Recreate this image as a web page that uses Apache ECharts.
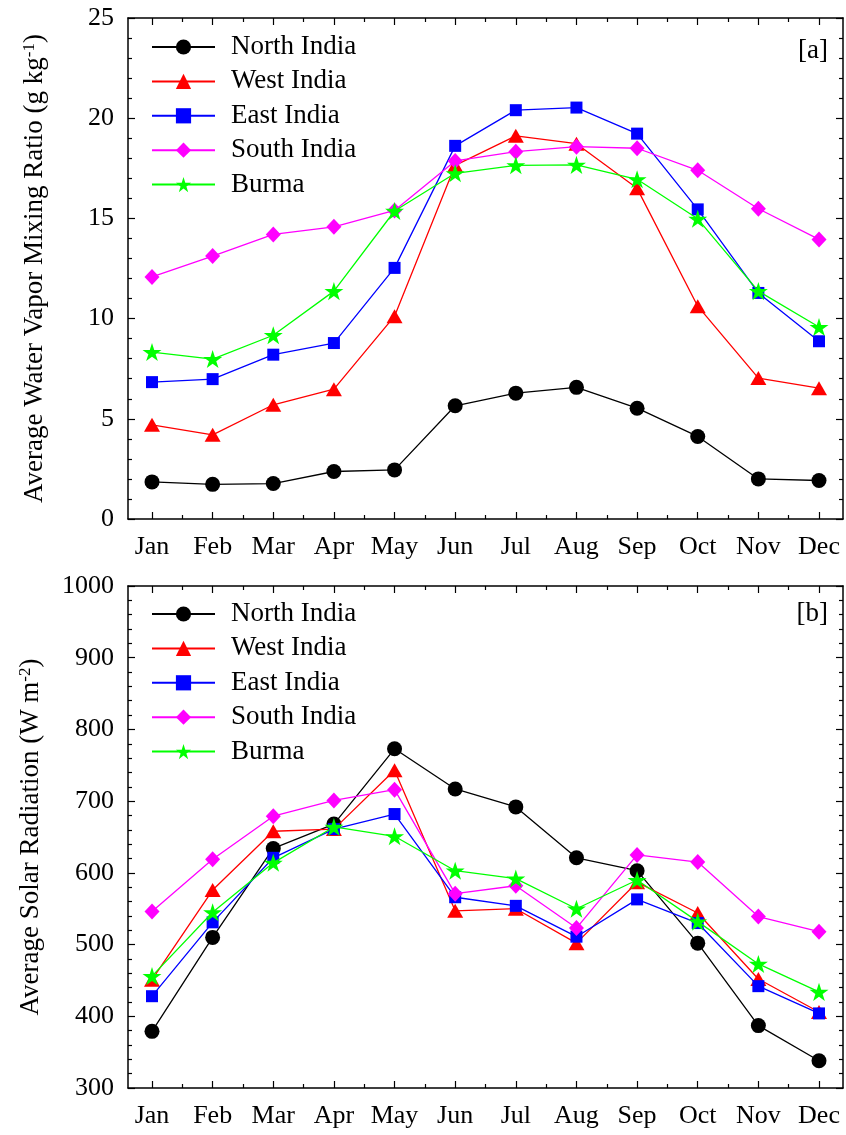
<!DOCTYPE html>
<html>
<head>
<meta charset="utf-8">
<script src="https://cdn.jsdelivr.net/npm/echarts@6/dist/echarts.min.js"></script>
<style>
html,body{margin:0;padding:0;background:#fff;}
#chart{width:846px;height:1135px;}
</style>
</head>
<body>
<div id="chart"></div>
<script>
var months = ['Jan','Feb','Mar','Apr','May','Jun','Jul','Aug','Sep','Oct','Nov','Dec'];
var seriesNames = ['North India','West India','East India','South India','Burma'];

// Panel [a]: water vapor mixing ratio (g/kg)
var northWV = [1.85,1.73,1.77,2.37,2.45,5.65,6.28,6.57,5.53,4.12,2.0,1.92];
var westWV  = [4.7,4.2,5.7,6.48,10.12,17.65,19.12,18.73,16.5,10.62,7.03,6.53];
var eastWV  = [6.83,6.98,8.2,8.78,12.53,18.62,20.4,20.53,19.23,15.45,11.28,8.87];
var southWV = [12.08,13.12,14.2,14.58,15.4,17.87,18.33,18.58,18.5,17.4,15.48,13.95];
var burmaWV = [8.33,7.98,9.17,11.37,15.37,17.25,17.65,17.67,16.95,14.98,11.37,9.58];

// Panel [b]: solar radiation (W/m2)
var northSR = [379,510,634,668,773,717,692,621,603,502,387,338];
var westSR  = [451,576,658,661,743,547,550,502,587,544,452,406];
var eastSR  = [428,531,621,661,682,566,554,511,563,530,442,404];
var southSR = [546,619,679,701,716,571,582,523,625,615,539,518];
var burmaSR = [456,545,614,664,651,603,592,550,590,532,473,434];

var wvTicks = {min:0, max:25, interval:5};
var srTicks = {min:300, max:1000, interval:100};

var FONT = 'Liberation Serif';
var colors = ['#000000','#ff0000','#0000ff','#ff00ff','#00ff00'];
var star = 'path://M0,-10 L2.245,-3.09 L9.511,-3.09 L3.633,1.18 L5.878,8.09 L0,3.82 L-5.878,8.09 L-3.633,1.18 L-9.511,-3.09 L-2.245,-3.09 Z';
var symbols = ['circle','triangle','rect','diamond',star];
var symSizes = [15,[16,14],12,[15,16],19];

function pts(arr){ return arr.map(function(v,i){ return [i+1, v]; }); }

var chart = echarts.init(document.getElementById('chart'));

function frameX(grid, pos){
  return {type:'value', gridIndex:grid, position:pos, min:0, max:1,
    axisLine:{show:true, onZero:false, lineStyle:{color:'#000', width:1.5}},
    axisTick:{show:false}, axisLabel:{show:false}, splitLine:{show:false}};
}
function dataX(grid, pos, labels){
  return {type:'value', gridIndex:grid, position:pos, min:1, max:12, interval:1,
    axisLine:{show:false, onZero:false},
    axisTick:{show:true, inside:true, length:7, lineStyle:{color:'#000', width:1.2}},
    minorTick:{show:true, splitNumber:2, length:4, lineStyle:{color:'#000', width:1.2}},
    axisLabel:{show:labels, margin:15, color:'#000', fontFamily:FONT, fontSize:26,
      formatter:function(v){ return months[Math.round(v)-1] || ''; }},
    splitLine:{show:false}};
}
function frameY(grid, pos, t, labels, name){
  var o = {type:'value', gridIndex:grid, position:pos, min:t.min, max:t.max, interval:t.interval,
    axisLine:{show:true, onZero:false, lineStyle:{color:'#000', width:1.5}},
    axisTick:{show:true, inside:true, length:7, lineStyle:{color:'#000', width:1.2}},
    minorTick:{show:true, splitNumber:5, length:4, lineStyle:{color:'#000', width:1.2}},
    axisLabel:{show:labels, margin:14, color:'#000', fontFamily:FONT, fontSize:26,
      formatter:function(v){ return String(v); }},
    splitLine:{show:false}};
  if(name){
    o.name = name.text;
    o.nameLocation = 'middle';
    o.nameGap = name.gap;
    o.nameTextStyle = {color:'#000', fontFamily:FONT, fontSize:27,
      rich:{a:{fontFamily:FONT, fontSize:27, color:'#000'}, s:{fontFamily:FONT, fontSize:17, color:'#000', verticalAlign:'top'}}};
  }
  return o;
}
function dataY(grid, t){
  return {type:'value', gridIndex:grid, min:t.min, max:t.max, show:false, splitLine:{show:false}};
}

var wvData = [northWV, westWV, eastWV, southWV, burmaWV];
var srData = [northSR, westSR, eastSR, southSR, burmaSR];
var series = [];
function addSeries(dataSets, xi, yi){
  dataSets.forEach(function(d, k){
    series.push({type:'line', name:seriesNames[k], xAxisIndex:xi, yAxisIndex:yi,
      data:pts(d), symbol:symbols[k], symbolSize:symSizes[k], symbolKeepAspect:true,
      lineStyle:{color:colors[k], width:1.3}, itemStyle:{color:colors[k]},
      emphasis:{disabled:true}, animation:false, z:3+k});
  });
}
addSeries(wvData, 2, 2);
addSeries(srData, 6, 5);

function legend(top){
  return {orient:'vertical', left:151, top:top, padding:0, itemGap:7.4,
    itemWidth:63, itemHeight:19, data:seriesNames, selectedMode:false,
    textStyle:{fontFamily:FONT, fontSize:27, color:'#000', lineHeight:27, padding:[0,0,0,11]}};
}

var option = {
  backgroundColor:'#fff',
  animation:false,
  grid:[
    {left:128, right:3, top:18, height:501},
    {left:152, right:27, top:18, height:501},
    {left:128, right:3, top:586, height:502},
    {left:152, right:27, top:586, height:502}
  ],
  xAxis:[
    frameX(0,'bottom'), frameX(0,'top'), dataX(1,'bottom',true), dataX(1,'top',false),
    frameX(2,'bottom'), frameX(2,'top'), dataX(3,'bottom',true), dataX(3,'top',false)
  ],
  yAxis:[
    frameY(0,'left',wvTicks,true,{text:'{a|Average Water Vapor Mixing Ratio (g kg}{s|-1}{a|)}', gap:80}),
    frameY(0,'right',wvTicks,false),
    dataY(1,wvTicks),
    frameY(2,'left',srTicks,true,{text:'{a|Average Solar Radiation (W m}{s|-2}{a|)}', gap:84}),
    frameY(2,'right',srTicks,false),
    dataY(3,srTicks)
  ],
  legend:[legend(33.5), legend(600.5)],
  graphic:[
    {type:'text', right:18, top:37, style:{text:'[a]', font:'27px "Liberation Serif"', fill:'#000'}},
    {type:'text', right:18, top:600, style:{text:'[b]', font:'27px "Liberation Serif"', fill:'#000'}}
  ],
  series:series
};
chart.setOption(option);
</script>
</body>
</html>
